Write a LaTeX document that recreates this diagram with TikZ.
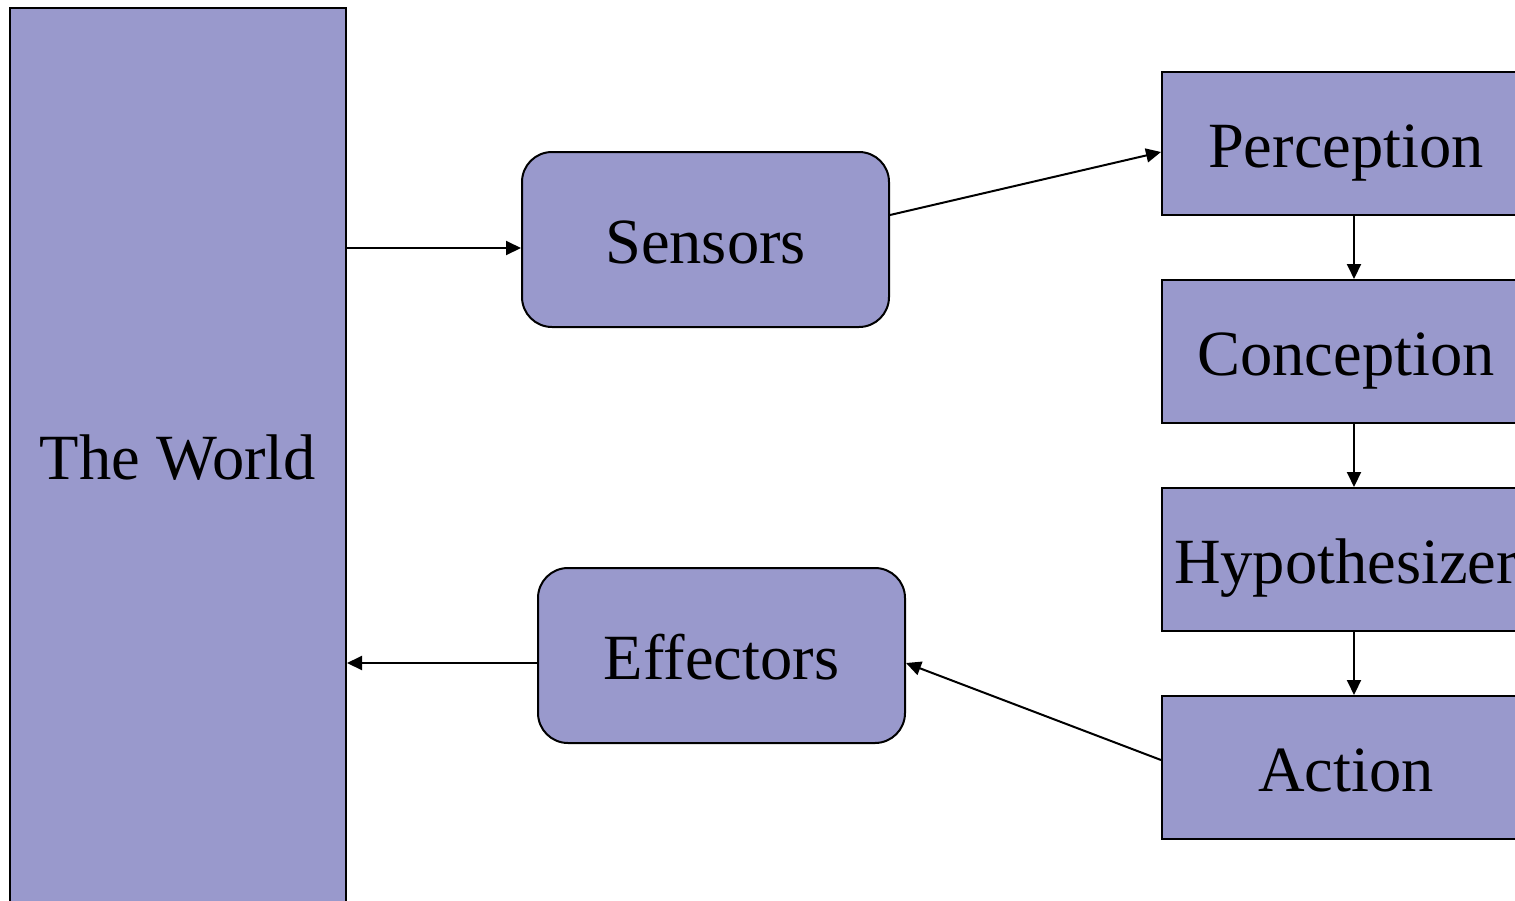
\documentclass[tikz,border=0pt]{standalone}
\usepackage{fontspec}
\setmainfont{Liberation Serif}
\usetikzlibrary{arrows.meta}
\definecolor{boxfill}{HTML}{9999CC}
\begin{document}
\begin{tikzpicture}[x=1pt,y=-1pt,
  box/.style={draw=black, line width=2pt, fill=boxfill, inner sep=0pt,
    font=\fontsize{64.5}{71}\selectfont, text height=47pt, text depth=0pt},
  stage/.style={box, minimum width=368pt, minimum height=143pt},
  unit/.style={box, minimum width=367pt, minimum height=175pt, rounded corners=30pt},
  arr/.style={line width=2pt, -{Triangle[length=15pt,width=14pt]}}]
\useasboundingbox (0,0) rectangle (1515,900);
\clip (0,0) rectangle (1515,900);
\fill[white] (0,0) rectangle (1515,900);

% blocks
\node[box, minimum width=336pt, minimum height=896pt] (world) at (178,456) {The World};
\node[unit] (sensors) at (705.5,239.5) {Sensors};
\node[unit] (effectors) at (721.5,655.5) {Effectors};
\node[stage] (perc) at (1346,143.5) {Perception};
\node[stage] (conc) at (1346,351.5) {Conception};
\node[stage] (hyp) at (1346,559.5) {Hypothesizer};
\node[stage] (act) at (1346,767.5) {Action};

% attachment points
\coordinate (sin) at ([yshift=-8.5pt]sensors.west);
\coordinate (eout) at ([yshift=-7.5pt]effectors.west);

% connectors
\draw[arr] (world.east |- sin) -- (sin);
\draw[arr] ([yshift=24.5pt]sensors.east) -- ([yshift=-8.5pt]perc.west);
\draw[arr] ([xshift=8pt]perc.south) -- ([xshift=8pt]conc.north);
\draw[arr] ([xshift=8pt]conc.south) -- ([xshift=8pt]hyp.north);
\draw[arr] ([xshift=8pt]hyp.south) -- ([xshift=8pt]act.north);
\draw[arr] ([yshift=7.5pt]act.west) -- ([yshift=-7.5pt]effectors.east);
\draw[arr] (eout) -- (world.east |- eout);
\end{tikzpicture}
\end{document}
